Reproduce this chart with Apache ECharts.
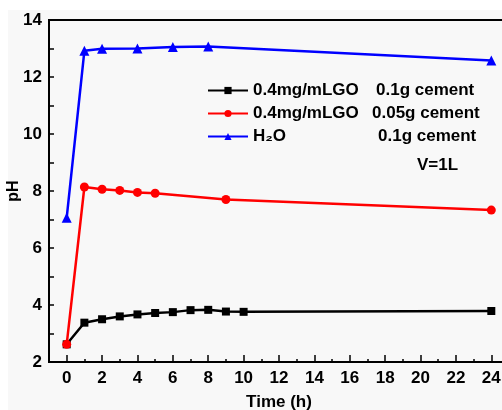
<!DOCTYPE html>
<html>
<head>
<meta charset="utf-8">
<script src="https://cdn.jsdelivr.net/npm/echarts@6/dist/echarts.min.js"></script>
<style>html,body{margin:0;padding:0;background:#fff}#c{width:502px;height:410px}</style>
</head>
<body>
<div id="c"></div>
<script>
// ---- data ----
var blackX = [0, 1, 2, 3, 4, 5, 6, 7, 8, 9, 10, 24];
var blackY = [2.62, 3.38, 3.5, 3.6, 3.67, 3.72, 3.75, 3.82, 3.83, 3.77, 3.76, 3.79];
var redX = [0, 1, 2, 3, 4, 5, 9, 24];
var redY = [2.62, 8.14, 8.06, 8.02, 7.95, 7.92, 7.7, 7.33];
var blueX = [0, 1, 2, 4, 6, 8, 24];
var blueY = [7.06, 12.92, 12.99, 13.0, 13.05, 13.07, 12.58];
var seriesNames = ['GO01', 'GO005', 'H2O'];
var xMajorTicks = [0, 2, 4, 6, 8, 10, 12, 14, 16, 18, 20, 22, 24];
var xMinorTicks = [1, 3, 5, 7, 9, 11, 13, 15, 17, 19, 21, 23];

function pairs(xs, ys) { return xs.map(function (x, i) { return [x, ys[i]]; }); }

var FONT = '"Liberation Sans", Arial, "DejaVu Sans", sans-serif';
var chart = echarts.init(document.getElementById('c'), null, {renderer: 'canvas'});
var bold17 = {fontFamily: FONT, fontWeight: 'bold', fontSize: 17, color: '#000'};

var legendText = {
  'GO01': '{a|0.4mg/mLGO}{b|0.1g cement}',
  'GO005': '{a2|0.4mg/mLGO}{b|0.05g cement}',
  'H2O': '{o|H\u2082O}{b|0.1g cement}'
};

chart.setOption({
  backgroundColor: '#fff',
  animation: false,
  graphic: [
    {type: 'rect', left: 8, top: 10, shape: {width: 494, height: 400}, style: {fill: '#f8f8f8'}, z: -10, silent: true},
    {type: 'text', left: 417, top: 157, style: {text: 'V=1L', font: 'bold 17px ' + FONT, fill: '#000'}}
  ],
  grid: {left: 49, top: 20, right: -7, bottom: 48, outerBoundsMode: 'none', containLabel: false,
         show: true, borderColor: '#000', borderWidth: 2, backgroundColor: 'transparent'},
  legend: {
    left: 207, top: 82, orient: 'vertical', padding: 0,
    itemWidth: 40, itemHeight: 9, itemGap: 6,
    data: seriesNames,
    formatter: function (n) { return legendText[n]; },
    textStyle: {
      rich: {
        a: Object.assign({}, bold17, {width: 123, lineHeight: 17}),
        a2: Object.assign({}, bold17, {width: 119, lineHeight: 17}),
        b: Object.assign({}, bold17, {lineHeight: 17}),
        o: Object.assign({}, bold17, {width: 125, lineHeight: 17})
      }
    }
  },
  xAxis: [{
    type: 'value', min: -1, max: 25,
    name: 'Time (h)', nameLocation: 'middle', nameGap: 32,
    nameTextStyle: Object.assign({}, bold17),
    axisLine: {show: true, onZero: false, lineStyle: {color: '#000', width: 2}},
    axisTick: {show: true, inside: true, length: 7, customValues: xMajorTicks, lineStyle: {color: '#000', width: 1.5}},
    axisLabel: Object.assign({customValues: xMajorTicks, margin: 8}, bold17),
    splitLine: {show: false}
  }, {
    type: 'value', min: -1, max: 25, position: 'bottom',
    axisLine: {show: false},
    axisTick: {show: true, inside: true, length: 3, customValues: xMinorTicks, lineStyle: {color: '#000', width: 1.5}},
    axisLabel: {show: false},
    splitLine: {show: false}
  }],
  yAxis: {
    type: 'value', min: 2, max: 14, interval: 2,
    name: 'pH', nameLocation: 'middle', nameGap: 27, nameRotate: 90, nameMoveOverlap: false,
    nameTextStyle: Object.assign({}, bold17, {fontSize: 16}),
    axisLine: {show: true, onZero: false, lineStyle: {color: '#000', width: 2}},
    axisTick: {show: true, inside: true, length: 5, lineStyle: {color: '#000', width: 1.5}},
    minorTick: {show: true, splitNumber: 2, length: 5, lineStyle: {color: '#000', width: 1.5}},
    axisLabel: Object.assign({margin: 7}, bold17),
    splitLine: {show: false}
  },
  series: [
    {name: 'GO01', type: 'line', data: pairs(blackX, blackY), symbol: 'rect', symbolSize: 8,
     lineStyle: {color: '#000', width: 2.5}, itemStyle: {color: '#000'}},
    {name: 'GO005', type: 'line', data: pairs(redX, redY), symbol: 'circle', symbolSize: 9,
     lineStyle: {color: '#ff0000', width: 2.5}, itemStyle: {color: '#ff0000'}},
    {name: 'H2O', type: 'line', data: pairs(blueX, blueY), symbol: 'triangle', symbolSize: 10,
     lineStyle: {color: '#0000ff', width: 2.5}, itemStyle: {color: '#0000ff'}}
  ]
});
</script>
</body>
</html>
